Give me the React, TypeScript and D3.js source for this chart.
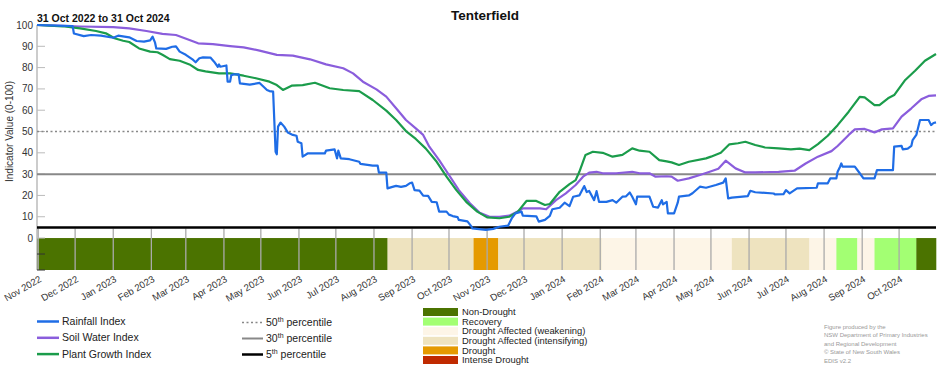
import React from "react";
import * as d3 from "d3";

const W = 952;
const H = 370;

// index values, [date, value]
const rainfall: [string, number][] = [
  ["2022-10-31", 100], ["2022-11-29", 99.5], ["2022-11-30", 96], ["2022-12-08", 94.8], ["2022-12-14", 95.3],
  ["2022-12-22", 95], ["2023-01-01", 94], ["2023-01-05", 95], ["2023-01-14", 94.2], ["2023-01-20", 92.5],
  ["2023-01-26", 92.2], ["2023-01-31", 92.8], ["2023-02-02", 94.5], ["2023-02-04", 91.7], ["2023-02-05", 89],
  ["2023-02-13", 88.8], ["2023-02-18", 89.8], ["2023-02-21", 90], ["2023-02-24", 87.5], ["2023-03-01", 86],
  ["2023-03-07", 83.6], ["2023-03-09", 82.5], ["2023-03-12", 84.4], ["2023-03-15", 84.8], ["2023-03-21", 84.7],
  ["2023-03-24", 82.8], ["2023-03-27", 80.4], ["2023-03-28", 81.5], ["2023-03-29", 80.4], ["2023-04-03", 81],
  ["2023-04-04", 73.4], ["2023-04-06", 73.4], ["2023-04-07", 76.5], ["2023-04-09", 76.8], ["2023-04-13", 76.8],
  ["2023-04-14", 72.6], ["2023-04-22", 72], ["2023-04-30", 72.8], ["2023-05-06", 69.5], ["2023-05-08", 69],
  ["2023-05-11", 68.7], ["2023-05-13", 40.5], ["2023-05-14", 39.3], ["2023-05-15", 52.3], ["2023-05-17", 54.2],
  ["2023-05-20", 52.3], ["2023-05-23", 49.5], ["2023-05-27", 48.4], ["2023-05-30", 48], ["2023-05-31", 45.2],
  ["2023-06-03", 44.5], ["2023-06-04", 38.2], ["2023-06-08", 39.7], ["2023-06-22", 39.7], ["2023-06-23", 41],
  ["2023-06-30", 41.6], ["2023-07-02", 37.4], ["2023-07-03", 41], ["2023-07-05", 37.4], ["2023-07-12", 37],
  ["2023-07-20", 35.8], ["2023-07-21", 34.8], ["2023-07-31", 34], ["2023-08-04", 34], ["2023-08-05", 30.7],
  ["2023-08-11", 30.7], ["2023-08-12", 23.3], ["2023-08-16", 24], ["2023-08-19", 24.5], ["2023-08-23", 24],
  ["2023-08-27", 24.5], ["2023-08-30", 25.7], ["2023-09-01", 26], ["2023-09-03", 22.5], ["2023-09-07", 22.3],
  ["2023-09-10", 19.9], ["2023-09-14", 19.8], ["2023-09-17", 17], ["2023-09-21", 16.8], ["2023-09-23", 12.4],
  ["2023-09-29", 12.4], ["2023-10-01", 11], ["2023-10-04", 10.3], ["2023-10-08", 9.8], ["2023-10-09", 8.5],
  ["2023-10-16", 7.8], ["2023-10-19", 5.6], ["2023-10-20", 4.5], ["2023-10-31", 3.8], ["2023-11-06", 4.3],
  ["2023-11-11", 5.3], ["2023-11-18", 5.8], ["2023-11-21", 9.2], ["2023-11-24", 11.6], ["2023-11-29", 12.4],
  ["2023-11-30", 10.5], ["2023-12-11", 10.2], ["2023-12-13", 7.7], ["2023-12-18", 8.5], ["2023-12-22", 10.4],
  ["2023-12-24", 13.5], ["2023-12-30", 14.2], ["2024-01-03", 16.6], ["2024-01-07", 15], ["2024-01-10", 19.4],
  ["2024-01-15", 20], ["2024-01-19", 24.4], ["2024-01-21", 21.6], ["2024-01-23", 22.1], ["2024-01-27", 17.8],
  ["2024-01-29", 22], ["2024-01-31", 17], ["2024-02-06", 17], ["2024-02-11", 17.8], ["2024-02-14", 16.6],
  ["2024-02-19", 19.4], ["2024-02-22", 19.6], ["2024-02-25", 21.4], ["2024-02-27", 19.4], ["2024-03-01", 15.8],
  ["2024-03-02", 19.4], ["2024-03-12", 19.4], ["2024-03-15", 14.7], ["2024-03-19", 14.3], ["2024-03-22", 17.8],
  ["2024-03-23", 15.8], ["2024-03-26", 17], ["2024-03-27", 11.6], ["2024-04-01", 11.6], ["2024-04-04", 16.6],
  ["2024-04-05", 19.4], ["2024-04-13", 20], ["2024-04-16", 21], ["2024-04-22", 24.1], ["2024-04-27", 23.6],
  ["2024-05-05", 24.9], ["2024-05-11", 26], ["2024-05-13", 28], ["2024-05-15", 18.6], ["2024-05-18", 19],
  ["2024-05-31", 19.7], ["2024-06-02", 22.2], ["2024-06-06", 21.5], ["2024-06-21", 20.9], ["2024-06-22", 20.5],
  ["2024-06-29", 20.6], ["2024-07-01", 22.5], ["2024-07-04", 21], ["2024-07-10", 23.3], ["2024-07-26", 23.6],
  ["2024-07-27", 25.7], ["2024-08-04", 25.7], ["2024-08-06", 28], ["2024-08-11", 28], ["2024-08-12", 31.1],
  ["2024-08-14", 33.5], ["2024-08-15", 35], ["2024-08-16", 33.5], ["2024-08-26", 33.5], ["2024-08-30", 30.4],
  ["2024-09-02", 28], ["2024-09-11", 28], ["2024-09-13", 31.9], ["2024-09-26", 31.9], ["2024-09-27", 42.9],
  ["2024-10-03", 43.3], ["2024-10-04", 41.6], ["2024-10-08", 42], ["2024-10-11", 43.3], ["2024-10-12", 46],
  ["2024-10-15", 48.4], ["2024-10-18", 55.4], ["2024-10-25", 55.4], ["2024-10-27", 53], ["2024-10-29", 54],
  ["2024-10-31", 54.3],
];

const soilWater: [string, number][] = [
  ["2022-10-31", 100], ["2022-11-21", 99.6], ["2022-12-05", 99.3], ["2023-01-01", 99], ["2023-01-14", 98.4],
  ["2023-01-28", 97.2], ["2023-02-10", 95.8], ["2023-02-21", 95.3], ["2023-03-04", 93], ["2023-03-11", 91.4],
  ["2023-03-23", 91], ["2023-04-06", 90.1], ["2023-04-17", 89.5], ["2023-04-30", 88], ["2023-05-14", 86],
  ["2023-05-27", 85.6], ["2023-06-10", 83.9], ["2023-06-23", 81.5], ["2023-07-07", 79.7], ["2023-07-15", 77.3],
  ["2023-07-23", 73.4], ["2023-08-03", 69.8], ["2023-08-11", 66.4], ["2023-08-19", 60.9], ["2023-08-27", 55.4],
  ["2023-09-04", 51.5], ["2023-09-10", 48.4], ["2023-09-15", 42.9], ["2023-09-23", 36.6], ["2023-10-01", 29.6],
  ["2023-10-09", 22.5], ["2023-10-18", 16.3], ["2023-10-26", 11.9], ["2023-11-03", 10], ["2023-11-11", 10],
  ["2023-11-19", 10.5], ["2023-11-27", 12.8], ["2023-11-30", 13.9], ["2023-12-14", 13.9], ["2023-12-19", 13.5],
  ["2023-12-27", 17.8], ["2024-01-04", 21], ["2024-01-12", 24.9], ["2024-01-18", 28.8], ["2024-01-23", 30.7],
  ["2024-01-29", 31.1], ["2024-02-03", 30.4], ["2024-02-14", 30.4], ["2024-02-27", 31.1], ["2024-03-04", 30.4],
  ["2024-03-12", 30.4], ["2024-03-17", 28.8], ["2024-03-26", 29], ["2024-03-30", 28.8], ["2024-04-04", 26.9],
  ["2024-04-13", 28], ["2024-04-22", 29.6], ["2024-04-30", 31.1], ["2024-05-07", 32.5], ["2024-05-13", 36.3],
  ["2024-05-21", 32.7], ["2024-05-29", 30.8], ["2024-06-06", 30.8], ["2024-06-25", 31.1], ["2024-07-08", 31.6],
  ["2024-07-17", 35], ["2024-07-27", 38.2], ["2024-08-07", 40.8], ["2024-08-12", 43.2], ["2024-08-21", 48.4],
  ["2024-08-26", 51], ["2024-09-03", 51.2], ["2024-09-11", 49.6], ["2024-09-17", 51], ["2024-09-26", 51.5],
  ["2024-10-03", 57], ["2024-10-11", 60.9], ["2024-10-19", 65.1], ["2024-10-25", 66.7], ["2024-10-31", 67],
];

const plantGrowth: [string, number][] = [
  ["2022-10-31", 100], ["2022-11-21", 99.4], ["2022-12-05", 98.4], ["2022-12-18", 97.2], ["2022-12-26", 96.1],
  ["2023-01-02", 93.8], ["2023-01-09", 92.6], ["2023-01-14", 92], ["2023-01-22", 89], ["2023-01-31", 87.5],
  ["2023-02-06", 87.2], ["2023-02-10", 86], ["2023-02-16", 84], ["2023-02-24", 83.2], ["2023-03-04", 81.5],
  ["2023-03-11", 78.9], ["2023-03-17", 78.2], ["2023-03-28", 77.3], ["2023-04-06", 77.3], ["2023-04-17", 76.2],
  ["2023-04-27", 75], ["2023-05-08", 73.4], ["2023-05-14", 71.8], ["2023-05-19", 69.5], ["2023-05-26", 71.5],
  ["2023-06-04", 71.8], ["2023-06-14", 72.9], ["2023-06-26", 70.3], ["2023-07-07", 69.5], ["2023-07-20", 69],
  ["2023-07-31", 64.8], ["2023-08-11", 59.8], ["2023-08-19", 55.4], ["2023-08-27", 50.2], ["2023-09-04", 46.5],
  ["2023-09-12", 42.1], ["2023-09-21", 35.8], ["2023-09-29", 28.8], ["2023-10-07", 22.5], ["2023-10-15", 17],
  ["2023-10-24", 12.4], ["2023-11-01", 9.7], ["2023-11-11", 9.3], ["2023-11-19", 10], ["2023-11-26", 12.4],
  ["2023-12-03", 17.4], ["2023-12-11", 17.4], ["2023-12-18", 15.5], ["2023-12-22", 16], ["2023-12-30", 21.7],
  ["2024-01-07", 25.3], ["2024-01-12", 27.2], ["2024-01-15", 31.1], ["2024-01-20", 39], ["2024-01-26", 40.5],
  ["2024-02-03", 40], ["2024-02-11", 38.2], ["2024-02-19", 39], ["2024-02-27", 42.1], ["2024-03-04", 41],
  ["2024-03-12", 40.5], ["2024-03-20", 36.6], ["2024-03-26", 36], ["2024-03-30", 35.5], ["2024-04-05", 34.3],
  ["2024-04-13", 35.8], ["2024-04-27", 37.4], ["2024-05-01", 38.2], ["2024-05-09", 40], ["2024-05-16", 44],
  ["2024-05-23", 44.5], ["2024-05-29", 45.2], ["2024-06-06", 43.7], ["2024-06-14", 42.5], ["2024-06-25", 42.1],
  ["2024-07-05", 41.6], ["2024-07-12", 42], ["2024-07-20", 41.3], ["2024-07-27", 44.1], ["2024-08-04", 48],
  ["2024-08-12", 53], ["2024-08-21", 59.3], ["2024-08-30", 66.3], ["2024-09-03", 66], ["2024-09-11", 62.4],
  ["2024-09-15", 62.4], ["2024-09-22", 65.6], ["2024-09-27", 67.1], ["2024-10-06", 74.2], ["2024-10-14", 78.5],
  ["2024-10-22", 83.2], ["2024-10-31", 86.4],
];

// drought category periods: [start, end, category]
const droughtPeriods: [string, string, string][] = [
  ["2022-10-31", "2023-08-12", "Non-Drought"],
  ["2023-08-12", "2023-10-21", "Drought Affected (intensifying)"],
  ["2023-10-21", "2023-11-10", "Drought"],
  ["2023-11-10", "2024-02-02", "Drought Affected (intensifying)"],
  ["2024-02-02", "2024-05-18", "Drought Affected (weakening)"],
  ["2024-05-18", "2024-07-20", "Drought Affected (intensifying)"],
  ["2024-07-20", "2024-08-11", "Drought Affected (weakening)"],
  ["2024-08-11", "2024-08-28", "Recovery"],
  ["2024-08-28", "2024-09-11", "Drought Affected (weakening)"],
  ["2024-09-11", "2024-10-15", "Recovery"],
  ["2024-10-15", "2024-10-31", "Non-Drought"],
];

const categories = [
  "Non-Drought",
  "Recovery",
  "Drought Affected (weakening)",
  "Drought Affected (intensifying)",
  "Drought",
  "Intense Drought",
];
const categoryColors = ["#4b7300", "#a3ff73", "#fdf5e7", "#eee3bf", "#e59a00", "#c02a00"];

const seriesNames = ["Rainfall Index", "Soil Water Index", "Plant Growth Index"];
const seriesColors = ["#1f6de6", "#8a5ddc", "#1b9c4b"];

const percentiles = [50, 30, 5];
const percentileStyles = [
  { stroke: "#888", width: 1.6, dash: "2,2.5" },
  { stroke: "#888", width: 2, dash: "" },
  { stroke: "#000", width: 2.5, dash: "" },
];

const yTicks = [0, 10, 20, 30, 40, 50, 60, 70, 80, 90, 100];
const stripTicks = [-7.5, -15];

const footnote = [
  "Figure produced by the",
  "NSW Department of Primary Industries",
  "and Regional Development",
  "\u00a9 State of New South Wales",
  "EDIS v2.2",
];

const parse = d3.timeParse("%Y-%m-%d");
const font = "'Liberation Sans', Arial, sans-serif";

export default function App() {
  const start = parse("2022-10-31") as Date;
  const end = parse("2024-10-31") as Date;
  const x = d3.scaleTime().domain([start, end]).range([37, 936]);
  const y = d3.scaleLinear().domain([-15, 100]).range([270, 25]);
  const months = d3.timeMonth.range(d3.timeMonth.ceil(start), end);
  const fmt = d3.timeFormat("%b %Y");
  const colorOf = d3.scaleOrdinal<string, string>().domain(categories).range(categoryColors);

  const line = d3
    .line<[string, number]>()
    .x((d) => x(parse(d[0]) as Date))
    .y((d) => y(d[1]));

  const series = [rainfall, soilWater, plantGrowth];
  const drawOrder = [1, 2, 0];

  return (
    <div style={{ position: "absolute", left: 0, top: 0 }}>
      <svg width={W} height={H} style={{ fontFamily: font, display: "block" }}>
        <rect width={W} height={H} fill="#fff" />
        <text x={485} y={20} textAnchor="middle" fontSize={13.5} fontWeight="bold" fill="#111">
          Tenterfield
        </text>
        <text x={37} y={22} fontSize={10.5} fontWeight="bold" fill="#111">
          31 Oct 2022 to 31 Oct 2024
        </text>

        {/* drought category strip */}
        {droughtPeriods.map((p, i) => (
          <rect
            key={i}
            x={x(parse(p[0]) as Date)}
            y={y(0)}
            width={x(parse(p[1]) as Date) - x(parse(p[0]) as Date) + 0.3}
            height={y(-15) - y(0)}
            fill={colorOf(p[2])}
          />
        ))}
        {months.map((m, i) => (
          <line key={i} x1={x(m)} x2={x(m)} y1={y(5) + 1} y2={y(-15)} stroke="#aaa" strokeWidth={1.3} />
        ))}

        {/* y axis */}
        <line x1={37} x2={37} y1={y(100)} y2={y(-15)} stroke="#aaa" strokeWidth={1.2} />
        {yTicks.map((t) => (
          <g key={t}>
            <line x1={37} x2={45} y1={y(t)} y2={y(t)} stroke="#bbb" strokeWidth={1} />
            <text x={33} y={y(t)} dy="0.35em" textAnchor="end" fontSize={10} fill="#333">
              {t}
            </text>
          </g>
        ))}
        {stripTicks.map((t) => (
          <line key={t} x1={37} x2={45} y1={y(t)} y2={y(t)} stroke="#333" strokeWidth={1} />
        ))}
        <text
          transform={`translate(13,${y(50)}) rotate(-90)`}
          textAnchor="middle"
          fontSize={10}
          fill="#333"
        >
          Indicator Value (0-100)
        </text>

        {/* x axis labels */}
        {months.map((m, i) => (
          <text
            key={i}
            transform={`translate(${x(m) + 4},${y(-15) + 11}) rotate(-30)`}
            textAnchor="end"
            fontSize={9.6}
            fill="#333"
          >
            {fmt(m)}
          </text>
        ))}

        {/* percentile lines */}
        {percentiles.map((p, i) => (
          <line
            key={p}
            x1={37}
            x2={936}
            y1={y(p)}
            y2={y(p)}
            stroke={percentileStyles[i].stroke}
            strokeWidth={percentileStyles[i].width}
            strokeDasharray={percentileStyles[i].dash || undefined}
          />
        ))}

        {/* index lines */}
        {drawOrder.map((i) => (
          <path
            key={i}
            d={line(series[i]) || ""}
            fill="none"
            stroke={seriesColors[i]}
            strokeWidth={2.2}
            strokeLinejoin="round"
          />
        ))}

        {/* series legend */}
        {seriesNames.map((n, i) => (
          <g key={n} transform={`translate(37,${321.5 + i * 16.3})`}>
            <line x1={0} x2={22} stroke={seriesColors[i]} strokeWidth={2.5} />
            <text x={25} dy="0.35em" fontSize={10.5} fill="#222">
              {n}
            </text>
          </g>
        ))}

        {/* percentile legend */}
        {percentiles.map((p, i) => (
          <g key={p} transform={`translate(242,${322.5 + i * 16})`}>
            <line
              x1={0}
              x2={21}
              stroke={percentileStyles[i].stroke}
              strokeWidth={percentileStyles[i].width}
              strokeDasharray={percentileStyles[i].dash || undefined}
            />
            <text x={24} dy="0.35em" fontSize={10.5} fill="#222">
              {p}
              <tspan fontSize={7} dy="-4">
                th
              </tspan>
              <tspan dy="4"> percentile</tspan>
            </text>
          </g>
        ))}

        {/* category legend */}
        {categories.map((c, i) => (
          <g key={c} transform={`translate(423,${308 + i * 9.6})`}>
            <rect width={35} height={8} fill={categoryColors[i]} />
            <text x={39} y={4} dy="0.35em" fontSize={9.4} fill="#222">
              {c}
            </text>
          </g>
        ))}

        {/* footnote */}
        {footnote.map((f, i) => (
          <text key={i} x={824} y={329 + i * 8.4} fontSize={6} fill="#999">
            {f}
          </text>
        ))}
      </svg>
    </div>
  );
}
